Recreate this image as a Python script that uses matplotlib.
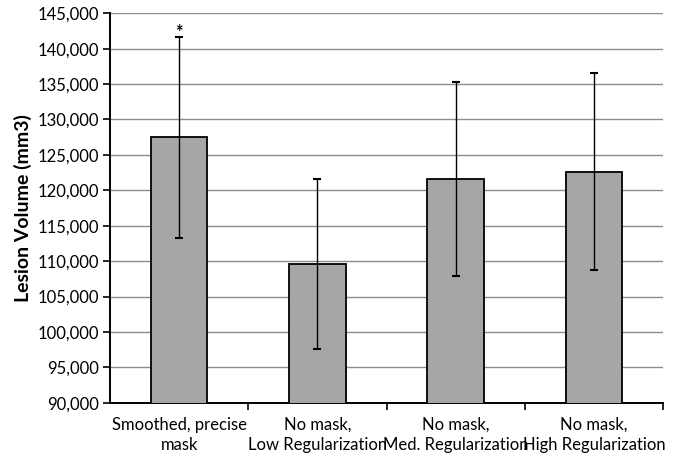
import matplotlib
matplotlib.use("Agg")
import matplotlib.pyplot as plt
from matplotlib.ticker import FuncFormatter, FixedLocator
import numpy as np

categories = ["Smoothed, precise\nmask", "No mask,\nLow Regularization",
              "No mask,\nMed. Regularization", "No mask,\nHigh Regularization"]
values = [127500, 109550, 121650, 122650]
errors = [14200, 12000, 13700, 13950]
annotations = ["*", "", "", ""]

plt.rcParams['font.family'] = ['Lato', 'DejaVu Sans']

fig = plt.figure(figsize=(6.81, 4.55), dpi=100)
ax = fig.add_axes([0.1615, 0.1149, 0.9736 - 0.1615, 0.9708 - 0.1149])

x = np.arange(len(categories))
ax.bar(x, values, width=0.41, color="#a6a6a6", edgecolor="black", linewidth=1.3, zorder=3)
ax.errorbar(x, values, yerr=errors, fmt="none", ecolor="black", elinewidth=1.0,
            capsize=3, capthick=1.5, zorder=4)
for xi, v, e, a in zip(x, values, errors, annotations):
    if a:
        ax.annotate(a, xy=(xi, v + e), xytext=(0, -3), textcoords="offset points",
                    ha="center", va="bottom", fontsize=13, fontweight="bold")

ax.set_xlim(-0.5, len(categories) - 0.5)
ax.set_ylim(90000, 145000)
ax.set_yticks(np.arange(90000, 145001, 5000))
ax.yaxis.set_major_formatter(FuncFormatter(lambda v, p: f"{int(v):,}"))
ax.yaxis.grid(True, color="#8c8c8c", linewidth=1.0, zorder=0)
ax.set_axisbelow(True)

ax.set_xticks(x)
ax.set_xticklabels(categories, fontsize=12, linespacing=1.3)
ax.tick_params(axis="x", length=0, pad=10)
ax.xaxis.set_minor_locator(FixedLocator(np.arange(0.5, len(categories), 1.0)))
ax.tick_params(axis="x", which="minor", length=5, width=1.2, direction="out")
ax.tick_params(axis="y", labelsize=12, length=5, width=1.2, direction="out", pad=3)

for s in ["top", "right"]:
    ax.spines[s].set_visible(False)
for s in ["left", "bottom"]:
    ax.spines[s].set_linewidth(1.4)

ax.set_ylabel("Lesion Volume (mm3)", fontsize=14, fontweight="bold", labelpad=4)

fig.savefig("out.png", dpi=100)
